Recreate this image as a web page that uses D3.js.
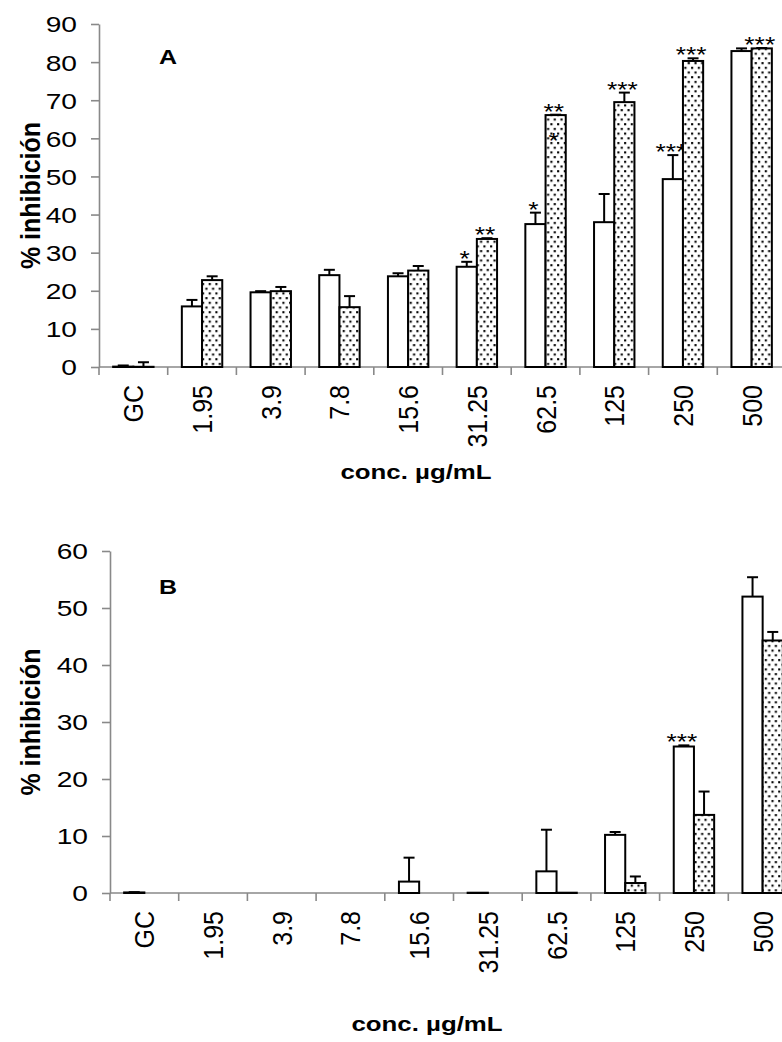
<!DOCTYPE html>
<html>
<head>
<meta charset="utf-8">
<script src="https://cdn.jsdelivr.net/npm/d3@7"></script>
<style>
  body{margin:0;background:#fff;}
  text{font-family:"Liberation Sans", Arial, sans-serif;}
</style>
</head>
<body>
<div id="vis-container"></div>
<script>

// categories on the x axis (conc. µg/mL)
let categories = ["GC", "1.95", "3.9", "7.8", "15.6", "31.25", "62.5", "125", "250", "500"];
let seriesNames = ["plain", "dotted"];

// panel A
let aPlain     = [0.1, 15.9, 19.6, 24.1, 23.8, 26.3, 37.5, 38.0, 49.3, 82.9];
let aPlainErr  = [0.3, 1.7, 0.3, 1.4, 0.8, 1.3, 3.0, 7.4, 6.3, 0.7];
let aDotted    = [0.05, 22.8, 19.9, 15.7, 25.3, 33.6, 66.1, 69.5, 80.3, 83.6];
let aDottedErr = [1.2, 1.0, 1.1, 2.9, 1.2, 0.2, 0.1, 2.5, 0.7, 0.1];
let aPlainSig  = ["", "", "", "", "", "*", "*", "", "***", ""];
let aDottedSig = ["", "", "", "", "", "**", "**|*", "***", "***", "***"];
let aTicks = [0, 10, 20, 30, 40, 50, 60, 70, 80, 90];

// panel B
let bPlain     = [0.1, 0, 0, 0, 2.0, 0.05, 3.8, 10.2, 25.7, 52.0];
let bPlainErr  = [0.05, 0, 0, 0, 4.2, 0, 7.3, 0.5, 0.2, 3.4];
let bDotted    = [0, 0, 0, 0, 0, 0, 0.05, 1.75, 13.7, 44.3];
let bDottedErr = [0, 0, 0, 0, 0, 0, 0, 1.15, 4.1, 1.5];
let bPlainSig  = ["", "", "", "", "", "", "", "", "***", ""];
let bDottedSig = ["", "", "", "", "", "", "", "", "", ""];
let bTicks = [0, 10, 20, 30, 40, 50, 60];

let w = 782;
let h = 1042;
let axisGray = "#898989";

let svg = d3.select("#vis-container")
  .append("svg")
  .attr("width", w)
  .attr("height", h);

svg.append("rect").attr("width", w).attr("height", h).attr("fill", "#fff");

// dotted fill
let pat = svg.append("defs").append("pattern")
  .attr("id", "dots")
  .attr("patternUnits", "userSpaceOnUse")
  .attr("width", 6.7)
  .attr("height", 9.4);
pat.append("rect").attr("width", 6.7).attr("height", 9.4).attr("fill", "#fff");
pat.append("rect").attr("x", 1).attr("y", 1).attr("width", 2.1).attr("height", 2.1).attr("fill", "#000");
pat.append("rect").attr("x", 4.35).attr("y", 5.7).attr("width", 2.1).attr("height", 2.1).attr("fill", "#000");

function drawPanel(p){
  let g = svg.append("g");

  let x = d3.scaleBand()
    .domain(categories)
    .range([p.left, p.right]);

  let x1 = d3.scaleBand()
    .domain(seriesNames)
    .range([0, x.bandwidth()])
    .paddingOuter(0.7);

  let y = d3.scaleLinear()
    .domain([0, p.max])
    .range([p.bottom, p.top]);

  // y axis
  let yAxis = g.append("g")
    .attr("transform", `translate(${p.left},0)`)
    .call(d3.axisLeft(y).tickValues(p.ticks).tickSize(8).tickSizeOuter(0));
  yAxis.select(".domain").attr("stroke", axisGray).attr("stroke-width", 1.6);
  yAxis.selectAll(".tick line").attr("stroke", axisGray).attr("stroke-width", 1.6);
  yAxis.selectAll(".tick text")
    .attr("font-family", "Liberation Sans, Arial, sans-serif")
    .attr("font-size", 22)
    .attr("fill", "#000")
    .attr("dy", "0.36em")
    .attr("x", -22 / 1.28)
    .attr("transform", "scale(1.28,1)");

  // x axis line + ticks at band edges
  g.append("line")
    .attr("x1", p.left).attr("x2", p.right)
    .attr("y1", y(0)).attr("y2", y(0))
    .attr("stroke", axisGray).attr("stroke-width", 1.6);

  let edges = categories.map(d=>{return x(d);}).concat([p.right]);
  g.selectAll(".xtick")
    .data(edges)
    .enter()
    .append("line")
    .attr("x1", d=>{return d;}).attr("x2", d=>{return d;})
    .attr("y1", y(0)).attr("y2", y(0) + 8)
    .attr("stroke", axisGray).attr("stroke-width", 1.6);

  g.selectAll(".xlabel")
    .data(categories)
    .enter()
    .append("text")
    .attr("transform", d=>{return `translate(${x(d) + x.bandwidth()/2 + 10},${y(0) + 18}) scale(1.12,1) rotate(-90)`;})
    .attr("text-anchor", "end")
    .attr("font-size", 25)
    .text(d=>{return d;});

  // bars, error bars and stars
  let series = [
    {key: "plain", vals: p.plain, errs: p.plainErr, sig: p.plainSig, fill: "#fff"},
    {key: "dotted", vals: p.dotted, errs: p.dottedErr, sig: p.dottedSig, fill: "url(#dots)"}
  ];

  for(let s of series){
    let rows = categories.map((c, i)=>{
      return {cat: c, v: s.vals[i], e: s.errs[i], sig: s.sig[i]};
    });
    let cx = d=>{return x(d.cat) + x1(s.key) + x1.bandwidth()/2;};

    g.selectAll(".bar-" + s.key)
      .data(rows.filter(d=>{return d.v > 0;}))
      .enter()
      .append("rect")
      .attr("x", d=>{return x(d.cat) + x1(s.key);})
      .attr("y", d=>{return y(d.v);})
      .attr("width", x1.bandwidth())
      .attr("height", d=>{return y(0) - y(d.v);})
      .attr("fill", s.fill)
      .attr("stroke", "#000")
      .attr("stroke-width", 2);

    let withErr = rows.filter(d=>{return d.e > 0;});
    g.selectAll(".err-" + s.key)
      .data(withErr)
      .enter()
      .append("line")
      .attr("x1", cx).attr("x2", cx)
      .attr("y1", d=>{return y(d.v);})
      .attr("y2", d=>{return y(d.v + d.e);})
      .attr("stroke", "#000").attr("stroke-width", 2);
    g.selectAll(".cap-" + s.key)
      .data(withErr)
      .enter()
      .append("line")
      .attr("x1", d=>{return cx(d) - 5.5;}).attr("x2", d=>{return cx(d) + 5.5;})
      .attr("y1", d=>{return y(d.v + d.e);})
      .attr("y2", d=>{return y(d.v + d.e);})
      .attr("stroke", "#000").attr("stroke-width", 2);

    let stars = g.selectAll(".sig-" + s.key)
      .data(rows.filter(d=>{return d.sig !== "";}))
      .enter()
      .append("text")
      .attr("transform", d=>{return `translate(${cx(d) - 2},${y(d.v + d.e) + 4}) scale(1.2,1)`;})
      .attr("text-anchor", "middle")
      .attr("font-size", 22);
    stars.each(function(d){
      let parts = d.sig.split("|");
      parts.forEach((t, k)=>{
        d3.select(this).append("tspan")
          .attr("x", 0)
          .attr("dy", k === 0 ? 0 : 29)
          .text(t);
      });
    });
  }

  // panel letter
  g.append("text")
    .attr("transform", `translate(${p.letterX},${p.letterY}) scale(1.25,1)`)
    .attr("font-size", 20)
    .attr("font-weight", "bold")
    .text(p.letter);

  // axis titles
  g.append("text")
    .attr("transform", `translate(${p.xTitleX},${p.xTitleY}) scale(1.23,1)`)
    .attr("text-anchor", "middle")
    .attr("font-size", 21)
    .attr("font-weight", "bold")
    .text("conc. µg/mL");

  g.append("text")
    .attr("transform", `translate(${p.yTitleX},${(p.top + p.bottom)/2}) scale(1.1,1) rotate(-90)`)
    .attr("text-anchor", "middle")
    .attr("font-size", 25)
    .attr("font-weight", "bold")
    .text("% inhibición");
}

drawPanel({
  left: 99, right: 786, top: 24, bottom: 367, max: 90, ticks: aTicks,
  plain: aPlain, plainErr: aPlainErr, plainSig: aPlainSig,
  dotted: aDotted, dottedErr: aDottedErr, dottedSig: aDottedSig,
  letter: "A", letterX: 159, letterY: 64,
  xTitleX: 416, xTitleY: 479, yTitleX: 40
});

drawPanel({
  left: 110, right: 797, top: 551, bottom: 893, max: 60, ticks: bTicks,
  plain: bPlain, plainErr: bPlainErr, plainSig: bPlainSig,
  dotted: bDotted, dottedErr: bDottedErr, dottedSig: bDottedSig,
  letter: "B", letterX: 159, letterY: 594,
  xTitleX: 427, xTitleY: 1031, yTitleX: 40
});

</script>
</body>
</html>
